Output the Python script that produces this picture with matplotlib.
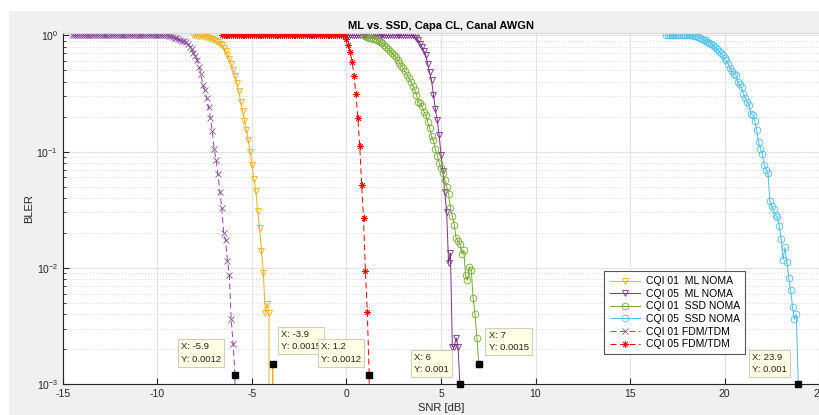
import numpy as np
import matplotlib
matplotlib.use("Agg")
import matplotlib.pyplot as plt
from matplotlib.patches import Rectangle

plt.rcParams['font.family'] = ['Liberation Sans', 'DejaVu Sans']
plt.rcParams['axes.unicode_minus'] = False

# BLER curves on a 0.1 dB SNR grid, each given by its first SNR point
ml01_start = -8.1
ml01_bler = [1.0, 1.0, 0.995, 0.99, 0.985, 0.98, 0.975, 0.965, 0.955, 0.945,
             0.93, 0.91, 0.89, 0.87, 0.845, 0.82, 0.78, 0.73, 0.68, 0.63,
             0.57, 0.50, 0.45, 0.39, 0.33, 0.27, 0.225, 0.185, 0.155, 0.125,
             0.10, 0.077, 0.058, 0.046, 0.031, 0.022, 0.014, 0.0091, 0.0041, 0.0049,
             0.0041, 0.0, 0.0015, 0.0]

ml05_start = -0.2
ml05_bler = [1.0] * 38 + [
    0.98, 0.95, 0.906, 0.85, 0.79, 0.73, 0.675, 0.565, 0.483, 0.41,
    0.307, 0.233, 0.188, 0.14, 0.094, 0.068, 0.045, 0.030, 0.011, 0.0134,
    0.0021, 0.0021, 0.0025, 0.0021, 0.001, 0.0]

ssd01_start = 0.9
ssd01_bler = [1.0, 0.99, 0.97, 0.96, 0.95, 0.94, 0.93, 0.92, 0.90, 0.88, 0.855,
              0.83, 0.80, 0.77, 0.74, 0.71, 0.68, 0.65, 0.62, 0.58, 0.55,
              0.52, 0.49, 0.46, 0.43, 0.40, 0.37, 0.34, 0.31, 0.27, 0.26,
              0.245, 0.22, 0.205, 0.18, 0.16, 0.135, 0.125, 0.105, 0.092, 0.08,
              0.072, 0.066, 0.057, 0.05, 0.043, 0.033, 0.028, 0.0235, 0.018, 0.017,
              0.016, 0.0132, 0.0142, 0.0086, 0.0078, 0.0102, 0.0096, 0.0055, 0.004, 0.0025,
              0.0015]

ssd05_start = 16.9
ssd05_bler = [1.0] * 15 + [
    0.99, 0.98, 0.965, 0.95, 0.935, 0.92, 0.905, 0.885, 0.865, 0.845,
    0.82, 0.795, 0.76, 0.73, 0.70, 0.675, 0.64, 0.61, 0.565, 0.52,
    0.49, 0.464, 0.455, 0.40, 0.38, 0.36, 0.314, 0.29, 0.268, 0.253,
    0.211, 0.207, 0.184, 0.154, 0.122, 0.106, 0.096, 0.077, 0.07, 0.065,
    0.0375, 0.034, 0.0319, 0.0283, 0.0273, 0.0228, 0.0177, 0.0117, 0.015, 0.0113,
    0.0081, 0.0065, 0.0046, 0.0036, 0.0040, 0.001, 0.0]

fdm01_start = -14.5
fdm01_bler = [1.0] * 51 + [
    0.99, 0.98, 0.97, 0.96, 0.945, 0.93, 0.915, 0.90, 0.89, 0.87,
    0.84, 0.80, 0.76, 0.71, 0.66, 0.61, 0.54, 0.465, 0.375, 0.34,
    0.29, 0.24, 0.195, 0.15, 0.105, 0.085, 0.064, 0.045, 0.033, 0.02,
    0.0175, 0.0115, 0.0087, 0.0036, 0.0022, 0.0012, 0.0]

fdm05_start = -6.6
fdm05_bler = [1.0] * 66 + [
    0.93, 0.83, 0.72, 0.588, 0.446, 0.314, 0.195, 0.112, 0.052, 0.0268,
    0.0094, 0.0042, 0.0012, 0.0]

labels = ["CQI 01  ML NOMA", "CQI 05  ML NOMA", "CQI 01  SSD NOMA",
          "CQI 05  SSD NOMA", "CQI 01 FDM/TDM", "CQI 05 FDM/TDM"]

# data tips: (curve index, SNR)
tips = [(4, -5.9), (0, -3.9), (5, 1.2), (1, 6.0), (2, 7.0), (3, 23.9)]


def snr_axis(start, bler):
    return np.round(start + 0.1 * np.arange(len(bler)), 1)


curves = [
    (ml01_start, ml01_bler, dict(color="#EDB120", ls="-", marker="v")),
    (ml05_start, ml05_bler, dict(color="#7E2F8E", ls="-", marker="v")),
    (ssd01_start, ssd01_bler, dict(color="#77AC30", ls="-", marker="o")),
    (ssd05_start, ssd05_bler, dict(color="#4DBEEE", ls="-", marker="o")),
    (fdm01_start, fdm01_bler, dict(color="#8B4A9C", ls="--", marker="x")),
    (fdm05_start, fdm05_bler, dict(color="#FF0000", ls="--", marker=(8, 2, 0))),
]

fig = plt.figure(figsize=(8.2, 4.15), dpi=100, facecolor="white")
fig.patches.append(Rectangle((9 / 820, 0), 1, 1 - 11 / 415, transform=fig.transFigure,
                             facecolor="#f0f0f0", edgecolor="none", zorder=-10))
ax = fig.add_axes([63 / 820, 1 - 384 / 415, 756 / 820, 351 / 415])
ax.set_facecolor("white")
ax.set_yscale("log", nonpositive="clip")

series = []
for start, bler, st in curves:
    x = snr_axis(start, bler)
    y = np.array(bler, dtype=float)
    series.append((x, y))
    line, = ax.plot(x, y, color=st["color"], linestyle=st["ls"], marker=st["marker"],
                    markersize=4.8, markerfacecolor="none", markeredgewidth=0.6,
                    linewidth=0.7)
    if st["ls"] == "--":
        line.set_dashes((6.2, 3.6))

ax.set_xlim(-15, 25)
ax.set_ylim(1e-3, 1.05)
ax.set_xticks(np.arange(-15, 26, 5))
ax.set_yticks([1e-3, 1e-2, 1e-1, 1e0])

ax.grid(True, which="major", color="#e3e3e3", linewidth=0.8)
ax.grid(True, which="minor", axis="y", color="#d9d9d9", linestyle=(0, (1.5, 2)), linewidth=0.6)
ax.set_axisbelow(True)

for side in ["left", "bottom"]:
    ax.spines[side].set_color("#262626")
    ax.spines[side].set_linewidth(0.8)
for side in ["top", "right"]:
    ax.spines[side].set_color("#d6d6d6")
    ax.spines[side].set_linewidth(0.8)
ax.tick_params(which="both", direction="in", colors="#262626", labelsize=7.5)
ax.tick_params(which="major", length=4)
ax.tick_params(which="minor", length=2.5)

ax.set_title("ML vs. SSD, Capa CL, Canal AWGN", fontsize=8, fontweight="bold", pad=3)
ax.set_xlabel("SNR [dB]", fontsize=8, color="#262626", labelpad=3)
ax.set_ylabel("BLER", fontsize=8, color="#262626", labelpad=2)

leg = ax.legend(labels, loc="upper left", bbox_to_anchor=(0.716, 0.322), fontsize=7.5,
                handlelength=2.9, handletextpad=0.6, labelspacing=0.25,
                borderpad=0.5, fancybox=False, framealpha=1, borderaxespad=0)
leg.get_frame().set_edgecolor("#555555")
leg.get_frame().set_linewidth(0.8)

# offsets (points) of the tip text from the data point
tip_offsets = {(4, -5.9): (-10, 8, "right"), (0, -3.9): (6, 9, "left"),
               (5, 1.2): (-6, 8, "right"), (1, 6.0): (-8, 7, "right"),
               (2, 7.0): (7, 8, "left"), (3, 23.9): (-8, 7, "right")}
for idx, snr in tips:
    x, y = series[idx]
    k = int(np.argmin(np.abs(x - snr)))
    xv, yv = x[k], y[k]
    ax.plot([xv], [yv], marker="s", color="black", markersize=5, clip_on=False, zorder=6)
    dx, dy, ha = tip_offsets[(idx, snr)]
    ax.annotate(f"X: {xv:g}\nY: {yv:g}", (xv, yv), xytext=(dx, dy),
                textcoords="offset points", ha=ha, va="bottom", fontsize=6.8,
                multialignment="left", color="#262626", linespacing=1.5, zorder=7,
                bbox=dict(boxstyle="square,pad=0.32", facecolor="#FFFFE6",
                          edgecolor="#cfcfc0", linewidth=0.8))

fig.savefig("out.png", dpi=100, facecolor=fig.get_facecolor())
